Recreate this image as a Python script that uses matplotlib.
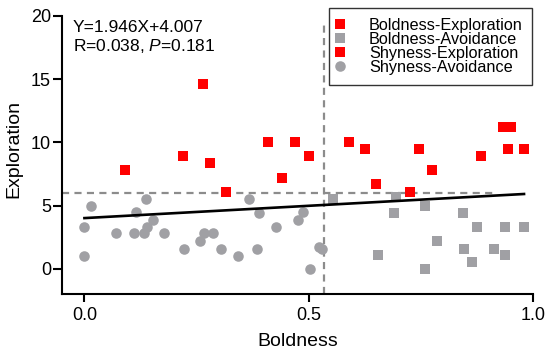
import numpy as np
from matplotlib import pyplot as plt

plt.rcParams['font.family'] = ['Liberation Sans', 'DejaVu Sans']
plt.rcParams['mathtext.fontset'] = 'custom'
plt.rcParams['mathtext.rm'] = 'Liberation Sans'
plt.rcParams['mathtext.it'] = 'Liberation Sans:italic'

"DATA"
bold_exp_x = [0.59, 0.625, 0.65, 0.725, 0.745, 0.775, 0.885, 0.933, 0.95, 0.945, 0.98]
bold_exp_y = [10.05, 9.45, 6.7, 6.1, 9.45, 7.8, 8.9, 11.2, 11.2, 9.45, 9.45]

bold_avo_x = [0.555, 0.695, 0.69, 0.76, 0.655, 0.785, 0.76, 0.843, 0.875, 0.846,
              0.865, 0.912, 0.938, 0.938, 0.98]
bold_avo_y = [5.55, 5.65, 4.4, 5.0, 1.05, 2.2, -0.05, 4.4, 3.3, 1.6,
              0.5, 1.6, 3.3, 1.05, 3.3]

shy_exp_x = [0.09, 0.22, 0.265, 0.28, 0.315, 0.41, 0.44, 0.47, 0.50]
shy_exp_y = [7.8, 8.9, 14.6, 8.35, 6.1, 10.05, 7.2, 10.05, 8.9]

shy_avo_x = [0.0, 0.0, 0.015, 0.07, 0.115, 0.11, 0.132, 0.14, 0.138, 0.153,
             0.177, 0.222, 0.258, 0.266, 0.287, 0.304, 0.342, 0.367, 0.384, 0.39,
             0.427, 0.475, 0.487, 0.503, 0.524, 0.53]
shy_avo_y = [3.3, 1.0, 5.0, 2.8, 4.45, 2.8, 2.8, 3.3, 5.55, 3.85,
             2.8, 1.6, 2.2, 2.8, 2.8, 1.6, 1.0, 5.55, 1.6, 4.4,
             3.3, 3.85, 4.45, 0.0, 1.7, 1.55]

fit_x = [0.0, 0.98]
fit_y = [4.007, 5.914]

cut_x = 0.535
cut_y = 6.0

red = '#FF0000'
grey = '#A0A0A4'

"MAKE PLOT"
fig = plt.figure(figsize=(5.5, 3.53), dpi=100)
ax = fig.add_axes([62/550, 1-294/353, 471/550, 278/353])

ax.plot([-0.05, 0.92], [cut_y, cut_y], color='#8C8C8C', lw=1.6, dashes=(3.2, 2.4), zorder=1)
ax.plot([cut_x, cut_x], [-2, 19.6], color='#8C8C8C', lw=1.6, dashes=(3.2, 2.4), zorder=1)

ax.plot(bold_exp_x, bold_exp_y, 's', color=red, ms=7.6, mew=0, label='Boldness-Exploration', zorder=3)
ax.plot(bold_avo_x, bold_avo_y, 's', color=grey, ms=7.4, mew=0, label='Boldness-Avoidance', zorder=2)
ax.plot(shy_exp_x, shy_exp_y, 's', color=red, ms=7.6, mew=0, label='Shyness-Exploration', zorder=3)
ax.plot(shy_avo_x, shy_avo_y, 'o', color=grey, ms=7.6, mew=0, label='Shyness-Avoidance', zorder=2)

ax.plot(fit_x, fit_y, color='k', lw=1.9, zorder=4)

ax.text(0.023, 0.987, 'Y=1.946X+4.007\nR=0.038, $P$=0.181', transform=ax.transAxes,
        ha='left', va='top', fontsize=12.5, linespacing=1.15)

ax.set_xlim(-0.05, 1.0)
ax.set_ylim(-2, 20)
ax.set_xticks([0.0, 0.5, 1.0])
ax.set_xticklabels(['0.0', '0.5', '1.0'])
ax.set_yticks([0, 5, 10, 15, 20])

for s in ['top', 'right']:
    ax.spines[s].set_visible(False)
for s in ['left', 'bottom']:
    ax.spines[s].set_linewidth(1.5)
ax.tick_params(axis='x', length=5.5, width=1.5, pad=4, labelsize=13)
ax.tick_params(axis='y', length=6.5, width=1.5, pad=1.5, labelsize=13)

ax.set_xlabel('Boldness', fontsize=14)
ax.set_ylabel('Exploration', fontsize=14)
ax.xaxis.set_label_coords(0.5, -0.14)
ax.yaxis.set_label_coords(-0.085, 0.52)

leg = ax.legend(loc='upper right', bbox_to_anchor=(0.9985, 1.028), borderaxespad=0,
                fontsize=11.7, frameon=True, fancybox=False, edgecolor='k',
                handlelength=0.1, handletextpad=1.75, labelspacing=-0.06,
                borderpad=0.6, markerscale=1.0)
leg.get_frame().set_linewidth(1.0)

fig.savefig('out.png', dpi=100)
